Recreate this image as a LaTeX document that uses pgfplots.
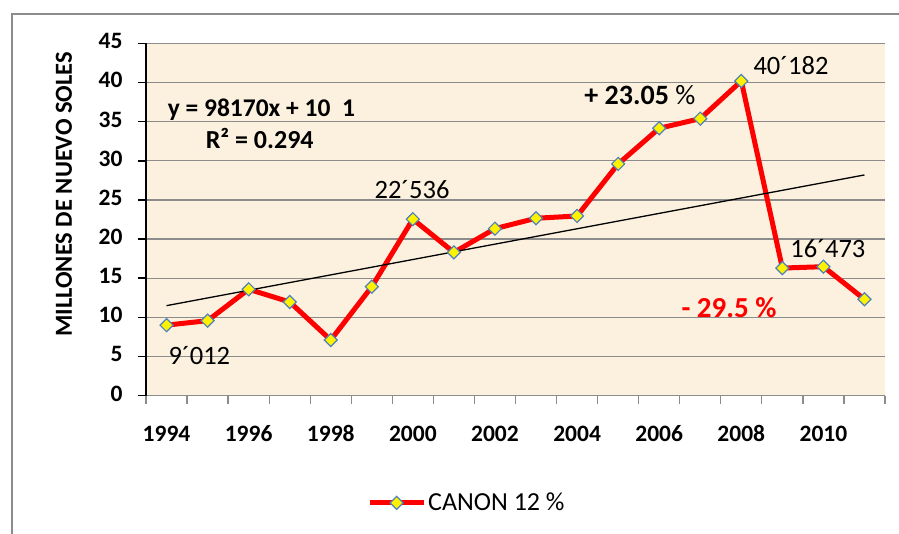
\documentclass[border=0pt]{standalone}
\usepackage{pgfplots}
\pgfplotsset{compat=1.18}
\usepackage{fontspec}
\setmainfont{Carlito}
\definecolor{bgcream}{RGB}{251,241,222}
\definecolor{gridgray}{RGB}{140,140,140}
\definecolor{markblue}{RGB}{79,129,189}
\definecolor{framegray}{RGB}{140,140,140}
\begin{document}
\begin{tikzpicture}[x=1pt,y=1pt]
\useasboundingbox (0,0) rectangle (899,533);
\draw[framegray, line width=2pt] (12,-10) -- (12,519) -- (910,519);
\begin{axis}[
  at={(146pt,137.3pt)}, anchor=south west,
  scale only axis, width=739pt, height=352.4pt,
  xmin=-0.5, xmax=17.5, ymin=0, ymax=45,
  axis background/.style={fill=bgcream},
  axis x line*=bottom, axis y line*=left,
  x axis line style={gridgray, line width=1.3pt, -},
  y axis line style={black, line width=2pt, -},
  ytick={0,5,...,45},
  ymajorgrids, grid style={gridgray, line width=1.2pt},
  tick align=outside,
  major tick length=8pt,
  ytick style={black, line width=1.5pt},
  xtick={-0.5,0.5,...,17.5}, xticklabels={},
  xtick style={gridgray, line width=1.3pt},
  extra x ticks={0,2,...,16},
  extra x tick labels={1994,1996,1998,2000,2002,2004,2006,2008,2010},
  extra x tick style={major tick length=0pt, grid=none, tick label style={yshift=-23pt}},
  typeset ticklabels with strut,
  /pgf/number format/assume math mode=true,
  ticklabel style={font=\bfseries\fontsize{23.5}{27}\selectfont},
  yticklabel style={xshift=-12pt},
  legend style={at={(0.299,-0.304)}, anchor=west, draw=none, fill=none, inner sep=0pt,
    font=\fontsize{26}{30}\selectfont, legend cell align=left},
  legend image code/.code={\draw[#1,mark repeat=2,mark phase=2] plot coordinates {(0pt,0pt)(27pt,0pt)(54pt,0pt)};},
  clip=false,
]
\addplot[red, line width=5pt, mark=square*, mark size=4.6pt,
  mark options={rotate=45, solid, fill=yellow, draw=markblue, line width=1.2pt}]
  coordinates {
  (0,9.012)(1,9.58)(2,13.59)(3,11.97)(4,7.11)(5,13.92)(6,22.536)(7,18.3)(8,21.33)
  (9,22.66)(10,22.95)(11,29.59)(12,34.15)(13,35.38)(14,40.182)(15,16.3)(16,16.473)(17,12.31)};
\addlegendentry{CANON 12 \%}
\addplot[black, line width=1.3pt, forget plot] coordinates {(0,11.5)(17,28.19)};
\node[font=\bfseries\fontsize{25.5}{29}\selectfont, inner sep=0pt] at (axis cs:2.31,36.5) {y = 98170x + 10\ \ 1};
\node[font=\bfseries\fontsize{26}{29}\selectfont, inner sep=0pt] at (axis cs:2.27,32.9) {R² = 0.294};
\node[font=\fontsize{26.5}{30}\selectfont, inner sep=0pt] at (axis cs:5.98,26.27) {22´536};
\node[font=\fontsize{26.5}{30}\selectfont, inner sep=0pt] at (axis cs:15.21,42.13) {40´182};
\node[font=\fontsize{26.5}{30}\selectfont, inner sep=0pt] at (axis cs:16.11,18.73) {16´473};
\node[font=\fontsize{26.5}{30}\selectfont, inner sep=0pt] at (axis cs:0.8,5.1) {9´012};
\node[font=\fontsize{28}{32}\selectfont, inner sep=0pt] at (axis cs:11.53,38.44) {\textbf{+ 23.05} \%};
\node[font=\bfseries\fontsize{29}{33}\selectfont, text=red, inner sep=0pt] at (axis cs:13.7,11.26) {- 29.5 \%};
\end{axis}
\node[rotate=90, font=\bfseries\fontsize{24.5}{28}\selectfont, inner sep=0pt] at (64,338.5) {MILLONES DE NUEVO SOLES};
\end{tikzpicture}
\end{document}
